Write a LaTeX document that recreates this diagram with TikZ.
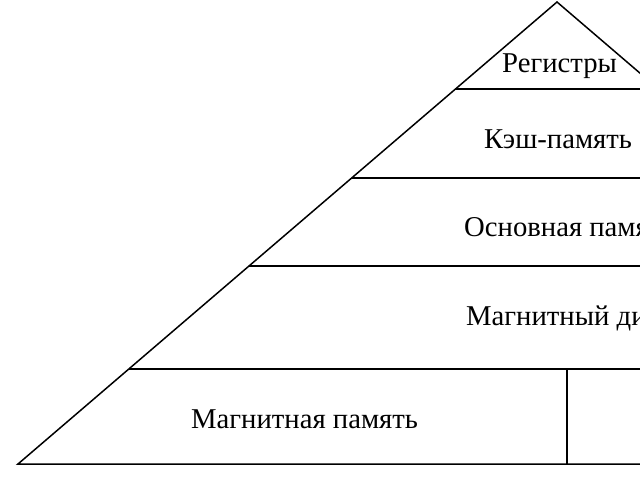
\documentclass[tikz,border=0pt]{standalone}
\usepackage{fontspec}
\setmainfont{Liberation Serif}
\begin{document}
\begin{tikzpicture}[x=1pt,y=-1pt,
  edge/.style={line width=1.5pt,black},
  lbl/.style={font=\fontsize{28.7}{32}\selectfont,inner sep=0pt,anchor=base west}]
\useasboundingbox (0,0) rectangle (640,480);
\clip (0,0) rectangle (640,480);
\fill[white] (0,0) rectangle (640,480);
\coordinate (apex) at (557,2);
\coordinate (bl) at (18,464);
\coordinate (br) at (1096,464);
\draw[edge,line join=miter] (bl) -- (apex) -- (br) -- cycle;
% horizontal levels
\coordinate (l1) at (455.5,89);
\coordinate (r1) at (700,89);
\coordinate (l2) at (351.7,178);
\coordinate (r2) at (700,178);
\coordinate (l3) at (249,266);
\coordinate (r3) at (700,266);
\coordinate (l4) at (129,369);
\coordinate (r4) at (700,369);
\draw[edge] (l1) -- (r1);
\draw[edge] (l2) -- (r2);
\draw[edge] (l3) -- (r3);
\draw[edge] (l4) -- (r4);
\coordinate (vt) at (567,369);
\coordinate (vb) at (567,464);
\draw[edge] (vt) -- (vb);
% labels
\node[lbl] (t1) at (502,72) {Регистры};
\node[lbl] (t2) at (484,148) {Кэш-память};
\node[lbl] (t3) at (464,236) {Основная память};
\node[lbl] (t4) at (466,325) {Магнитный диск};
\node[lbl] (t5) at (191,428) {Магнитная память};
\end{tikzpicture}
\end{document}
